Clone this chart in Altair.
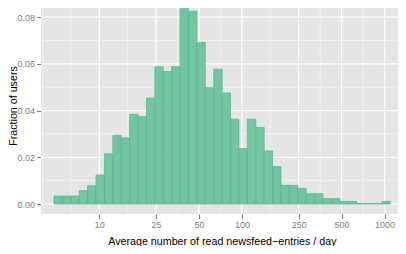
import altair as alt
import pandas as pd

# Histogram of average read newsfeed entries per day (log10 bins)
fractions = [0.0034, 0.0034, 0.0034, 0.0057, 0.0078, 0.0124, 0.0215, 0.0294,
             0.0283, 0.0384, 0.0374, 0.0453, 0.0588, 0.0567, 0.0588, 0.0836,
             0.0825, 0.0691, 0.0498, 0.0577, 0.0475, 0.0363, 0.0237, 0.0363,
             0.0328, 0.0227, 0.0160, 0.0080, 0.0080, 0.0067, 0.0044, 0.0044,
             0.0023, 0.0023, 0.0011, 0.0011, 0.0002, 0.0002, 0.0002, 0.0011]
bin_start_log10 = 0.6821
bin_width_log10 = 0.05895

x_breaks = [10, 25, 50, 100, 250, 500, 1000]
x_minor = [4.0, 6.32, 15.81, 35.36, 70.71, 158.1, 353.6, 707.1]
y_breaks = [0.00, 0.02, 0.04, 0.06, 0.08]
y_minor = [0.01, 0.03, 0.05, 0.07]

x_title = "Average number of read newsfeed\u2212entries / day"
y_title = "Fraction of users"

bars = pd.DataFrame({
    "lo": [10 ** (bin_start_log10 + i * bin_width_log10) for i in range(len(fractions))],
    "hi": [10 ** (bin_start_log10 + (i + 1) * bin_width_log10) for i in range(len(fractions))],
    "frac": fractions,
})

FONT = "Liberation Sans"
xscale = alt.Scale(type="log", domain=[3.898, 1243.5], nice=False)
yscale = alt.Scale(domain=[-0.00428, 0.0839], nice=False, zero=False)

xaxis = alt.Axis(values=x_breaks, format="d", grid=False, domain=False,
                 labelFont=FONT, labelFontSize=9, labelColor="#7F7F7F",
                 tickColor="#7F7F7F", tickSize=4.5, tickWidth=1, labelPadding=1.5,
                 labelFlush=False, labelOverlap=False,
                 title=x_title, titleFont=FONT, titleFontSize=10.7,
                 titleFontWeight="normal", titleColor="black",
                 titleX=180.9, titleY=30.5, titleBaseline="alphabetic",
                 titleAlign="center")
yaxis = alt.Axis(values=y_breaks, format=".2f", grid=False, domain=False,
                 labelFont=FONT, labelFontSize=9, labelColor="#7F7F7F",
                 tickColor="#7F7F7F", tickSize=4.5, tickWidth=1, labelPadding=2,
                 labelFlush=False, labelOverlap=False,
                 title=y_title, titleFont=FONT, titleFontSize=10.7,
                 titleFontWeight="normal", titleColor="black",
                 titleX=-25, titleY=97.5, titleAngle=-90,
                 titleBaseline="alphabetic", titleAlign="center")

minor_h = alt.Chart(pd.DataFrame({"v": y_minor})).mark_rule(
    color="#F2F2F2", strokeWidth=0.8).encode(
    y=alt.Y("v:Q", scale=yscale, axis=yaxis))
minor_v = alt.Chart(pd.DataFrame({"v": x_minor})).mark_rule(
    color="#F2F2F2", strokeWidth=0.8, clip=True).encode(
    x=alt.X("v:Q", scale=xscale, axis=xaxis))
major_h = alt.Chart(pd.DataFrame({"v": y_breaks})).mark_rule(
    color="#FFFFFF", strokeWidth=1.2).encode(
    y=alt.Y("v:Q", scale=yscale, axis=yaxis))
major_v = alt.Chart(pd.DataFrame({"v": x_breaks})).mark_rule(
    color="#FFFFFF", strokeWidth=1.2, clip=True).encode(
    x=alt.X("v:Q", scale=xscale, axis=xaxis))

bar_layer = alt.Chart(bars).mark_bar(
    fill="#73C4A2", stroke="#5BB994", strokeWidth=0.8, clip=True
).encode(
    x=alt.X("lo:Q", scale=xscale, axis=xaxis),
    x2="hi:Q",
    y=alt.Y("frac:Q", scale=yscale, axis=yaxis),
    y2=alt.datum(0),
)

chart = alt.layer(minor_h, minor_v, major_h, major_v, bar_layer).properties(
    width=357, height=206,
    autosize=alt.AutoSizeParams(type="none"),
    padding={"left": 33, "top": 0, "right": 0, "bottom": 32},
    background="white",
).configure_view(fill="#E5E5E5", stroke=None)

chart.save("out.html", embed_options={"renderer": "svg", "actions": False})
